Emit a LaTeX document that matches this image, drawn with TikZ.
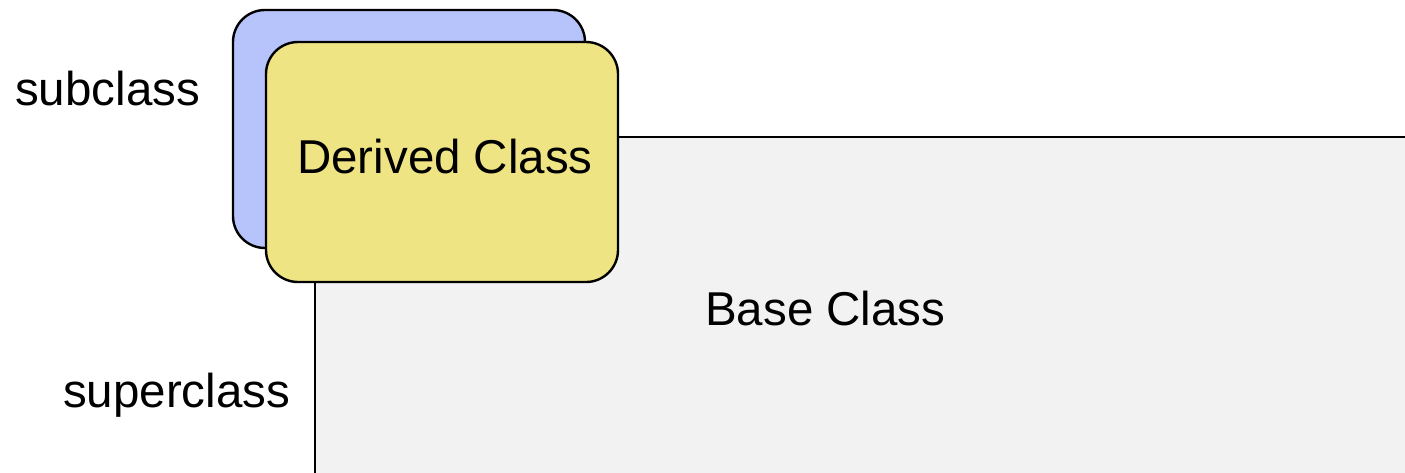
\documentclass[tikz,border=0pt]{standalone}
\usepackage{fontspec}
\setmainfont{Liberation Sans}
\definecolor{bluecard}{RGB}{183,196,251}
\definecolor{yellowcard}{RGB}{239,228,131}
\definecolor{basegray}{RGB}{242,242,242}
\tikzset{
  card/.style={draw=black, line width=2.4pt, rounded corners=32pt, inner sep=0pt},
  lbl/.style={inner sep=0pt, anchor=base west, font=\fontsize{47.5}{52}\selectfont}
}
\begin{document}
\begin{tikzpicture}[x=1pt, y=-1pt]
\useasboundingbox (0,0) rectangle (1405,472);
% base class area
\fill[basegray] (315,137) rectangle (1420,490);
\draw[line width=2.4pt] (315,490) -- (315,137) -- (1420,137);
% cards
\node[card, fill=bluecard, minimum width=352pt, minimum height=238pt] (blue) at (409,129) {};
\node[card, fill=yellowcard, minimum width=352pt, minimum height=240pt] (yellow) at (442,162) {};
% labels
\node[lbl] (derived) at (297,173) {Derived Class};
\node[lbl] (base) at (705,325) {Base Class};
\node[lbl] (sub) at (15,105.5) {subclass};
\node[lbl] (super) at (63,407) {superclass};
\end{tikzpicture}
\end{document}
